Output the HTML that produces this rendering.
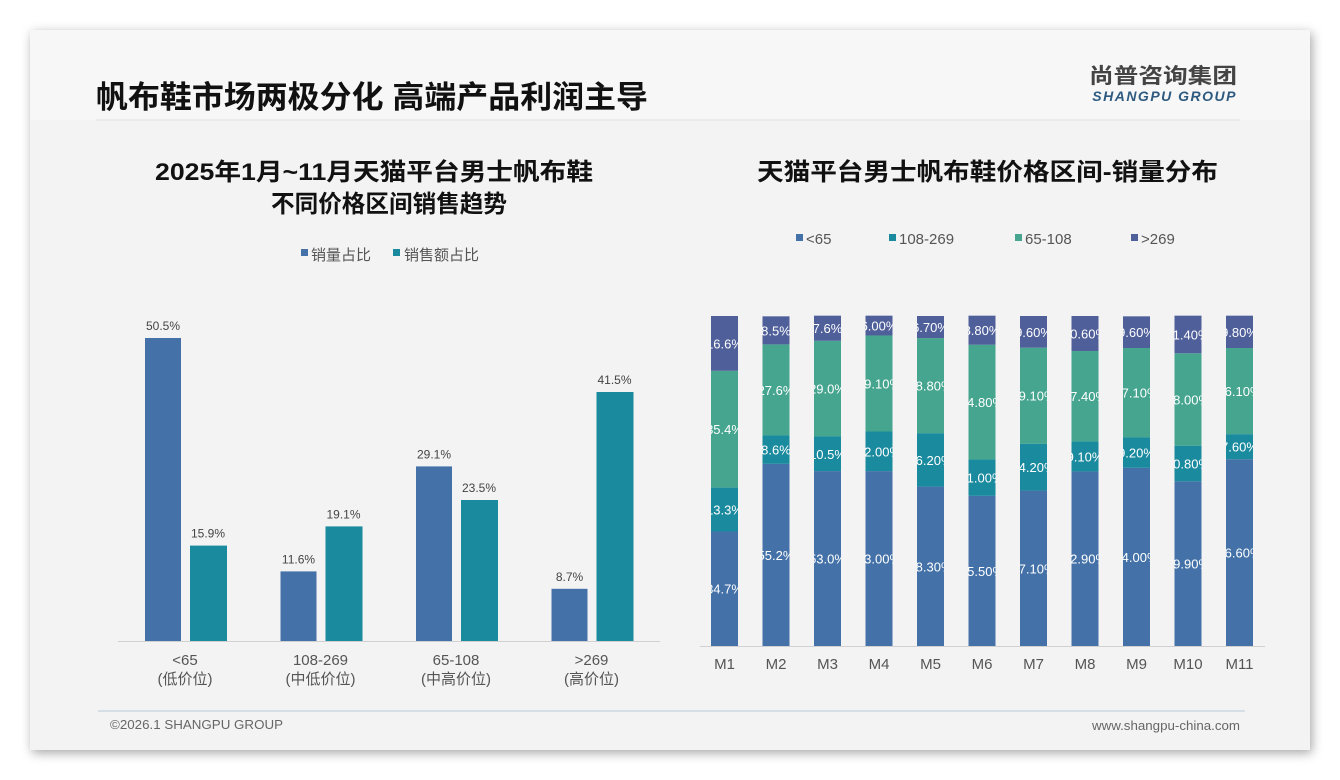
<!DOCTYPE html>
<html><head><meta charset="utf-8"><style>
body{margin:0;background:#fff;width:1340px;height:780px;overflow:hidden;font-family:"Liberation Sans","Noto Sans CJK SC",sans-serif}
#card{position:absolute;left:30px;top:30px;width:1280px;height:720px;background:#f3f3f3;box-shadow:2px 3px 10px rgba(0,0,0,0.35)}
</style></head><body>
<div id="card"></div>
<svg width="1340" height="780" style="position:absolute;left:0;top:0" font-family="Liberation Sans, Noto Sans CJK SC, sans-serif">
<rect x="30" y="30" width="1280" height="90" fill="#f7f7f7"/>
<text x="96" y="108" font-size="31" font-weight="bold" fill="#111" textLength="552" lengthAdjust="spacingAndGlyphs">帆布鞋市场两极分化 高端产品利润主导</text>
<line x1="96" y1="120" x2="1240" y2="120" stroke="#e2e2e2"/>
<text x="1237" y="83" font-size="21" font-weight="bold" fill="#444" text-anchor="end" textLength="148" lengthAdjust="spacingAndGlyphs">尚普咨询集团</text>
<text x="1237" y="101" font-size="14" font-weight="bold" font-style="italic" fill="#2e5a80" text-anchor="end" letter-spacing="1.5">SHANGPU GROUP</text>
<text x="155" y="180" font-size="24" font-weight="bold" fill="#111" textLength="438" lengthAdjust="spacingAndGlyphs">2025年1月~11月天猫平台男士帆布鞋</text>
<text x="271" y="212" font-size="24" font-weight="bold" fill="#111" textLength="236" lengthAdjust="spacingAndGlyphs">不同价格区间销售趋势</text>
<text x="757" y="180" font-size="24" font-weight="bold" fill="#111" textLength="461" lengthAdjust="spacingAndGlyphs">天猫平台男士帆布鞋价格区间-销量分布</text>
<g id="left"></g>
<g id="right"></g>
<line x1="98" y1="711" x2="1245" y2="711" stroke="#b8c8d8"/>
<text x="110" y="729" font-size="13" fill="#666" textLength="173" lengthAdjust="spacingAndGlyphs">©2026.1 SHANGPU GROUP</text>
<text x="1240" y="730" font-size="13" fill="#666" text-anchor="end" textLength="148" lengthAdjust="spacingAndGlyphs">www.shangpu-china.com</text>
</svg>
<script>
const NS='http://www.w3.org/2000/svg';
function mk(p,tag,a,txt){const e=document.createElementNS(NS,tag);for(const k in a)e.setAttribute(k,a[k]);if(txt!==undefined)e.textContent=txt;p.appendChild(e);return e;}
// Left chart data
const leftCats=['<65','108-269','65-108','>269'];
const leftSub=['(低价位)','(中低价位)','(中高价位)','(高价位)'];
const volShare=[50.5,11.6,29.1,8.7];
const salesShare=[15.9,19.1,23.5,41.5];
// Right chart data
const months=['M1','M2','M3','M4','M5','M6','M7','M8','M9','M10','M11'];
const sLow=[34.7,55.2,53.0,53.00,48.30,45.50,47.10,52.90,54.00,49.90,56.60];
const sMid=[13.3,8.6,10.5,12.00,16.20,11.00,14.20,9.10,9.20,10.80,7.60];
const sMidHigh=[35.4,27.6,29.0,29.10,28.80,34.80,29.10,27.40,27.10,28.00,26.10];
const sHigh=[16.6,8.5,7.6,6.00,6.70,8.80,9.60,10.60,9.60,11.40,9.80];
const lowLbl=['34.7%','55.2%','53.0%','53.00%','48.30%','45.50%','47.10%','52.90%','54.00%','49.90%','56.60%'];
const midLbl=['13.3%','8.6%','10.5%','12.00%','16.20%','11.00%','14.20%','9.10%','9.20%','10.80%','7.60%'];
const mhLbl=['35.4%','27.6%','29.0%','29.10%','28.80%','34.80%','29.10%','27.40%','27.10%','28.00%','26.10%'];
const hiLbl=['16.6%','8.5%','7.6%','6.00%','6.70%','8.80%','9.60%','10.60%','9.60%','11.40%','9.80%'];

const L=document.getElementById('left');
const base=641, pxPer=6.0;
const ly=v=>base-v*pxPer;
const gx=i=>118+i*135.5;
let e;
e=mk(L,'line',{x1:118,y1:641.5,x2:660,y2:641.5,stroke:'#d0d0d0'});


e=mk(L,'rect',{x:301,y:249,width:7,height:7,fill:'#4472a8'});


e=mk(L,'text',{x:311,y:260,'font-size':15,fill:'#555'},'销量占比');


e=mk(L,'rect',{x:393,y:249,width:7,height:7,fill:'#1a8a9e'});


e=mk(L,'text',{x:404,y:260,'font-size':15,fill:'#555'},'销售额占比');


leftCats.forEach((c,i)=>{
  const x0=gx(i)+27;
  e=mk(L,'rect',{x:x0,y:ly(volShare[i]),width:36,height:volShare[i]*pxPer,fill:'#4472a8'});
  
  
  e=mk(L,'text',{x:x0+18,y:ly(volShare[i])-8,'font-size':12,fill:'#444','text-anchor':'middle'},volShare[i].toFixed(1)+'%');
  
  
  e=mk(L,'rect',{x:x0+45,y:ly(salesShare[i]),width:37,height:salesShare[i]*pxPer,fill:'#1a8a9e'});
  
  
  e=mk(L,'text',{x:x0+63,y:ly(salesShare[i])-8,'font-size':12,fill:'#444','text-anchor':'middle'},salesShare[i].toFixed(1)+'%');
  
  
  e=mk(L,'text',{x:x0+40,y:665,'font-size':15,fill:'#555','text-anchor':'middle'},c);
  
  
  e=mk(L,'text',{x:x0+40,y:684,'font-size':15,fill:'#555','text-anchor':'middle'},leftSub[i]);
  
  
});

const R=document.getElementById('right');
const rb=646, rh=330;
const ry=v=>v/100*rh;
const mx=i=>711+i*51.5;
e=mk(R,'line',{x1:700,y1:646.5,x2:1265,y2:646.5,stroke:'#d0d0d0'});


const series=[[sLow,lowLbl,'#4472a8','<65'],[sMid,midLbl,'#1a8a9e','108-269'],[sMidHigh,mhLbl,'#45a58f','65-108'],[sHigh,hiLbl,'#4f5f9a','>269']];
const legX=[796,889,1015,1131];
series.forEach((s,k)=>{
  e=mk(R,'rect',{x:legX[k],y:234,width:7,height:7,fill:s[2]});
  
  
  e=mk(R,'text',{x:legX[k]+10,y:244,'font-size':15,fill:'#555'},s[3]);
  
  
});
const defs=mk(R,'defs',{});
months.forEach((m,i)=>{
  const cp=mk(defs,'clipPath',{id:'cp'+i});
  mk(cp,'rect',{x:mx(i),y:300,width:27,height:350});
  let y=rb;
  series.forEach((s,k)=>{
    const h=ry(s[0][i]);
    y-=h;
    e=mk(R,'rect',{x:mx(i),y:y,width:27,height:h,fill:s[2]});
    
    
    const g=mk(R,'g',{'clip-path':'url(#cp'+i+')'});
    e=mk(g,'text',{x:mx(i)+13.5,y:y+h/2+5,'font-size':13,fill:'#fff','text-anchor':'middle'},s[1][i]);
    
    
  });
  e=mk(R,'text',{x:mx(i)+13.5,y:669,'font-size':15,fill:'#555','text-anchor':'middle'},m);
  
  
});
</script>
</body></html>
